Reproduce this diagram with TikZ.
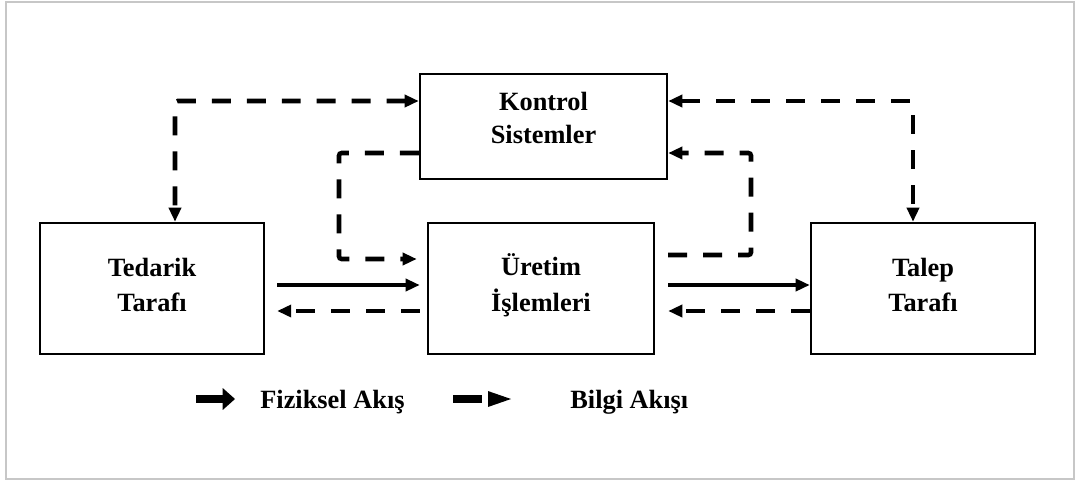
\documentclass[tikz,border=0pt]{standalone}
\usepackage{fontspec}
\setmainfont{Liberation Serif}
\colorlet{FrameGray}{black!22}
\usetikzlibrary{arrows.meta}
\tikzset{
    block/.style={
        draw, line width=1.4pt, align=center, inner sep=0pt,
        font=\fontsize{15}{20.3}\selectfont\bfseries
    },
    info flow/.style={
        line width=2.6pt, dash pattern=on 10.8pt off 9.1pt, rounded corners=1.5pt
    },
    physical flow/.style={line width=2.6pt},
    legend text/.style={anchor=base west, inner sep=0pt, font=\fontsize{15}{18}\selectfont\bfseries},
}

\begin{document}
\begin{tikzpicture}[x=0.02cm, y=-0.02cm, >={Triangle[length=8pt, width=6.8pt]}]

% Marco exterior
\useasboundingbox (0,0) rectangle (1075,481);
\draw[FrameGray, line width=1.1pt] (6,2) rectangle (1074,479);

% Bloques
\node[block, minimum width=4.94cm, minimum height=2.1cm, text depth=9.7pt,
      font=\fontsize{15}{18.6}\selectfont\bfseries] (kontrol) at (543.5,126.5) {Kontrol\\Sistemler};
\node[block, minimum width=4.48cm, minimum height=2.62cm, text depth=4pt] (tedarik) at (152,288.5) {Tedarik\\Tarafı};
\node[block, minimum width=4.52cm, minimum height=2.62cm, text depth=6.7pt] (uretim) at (541,288.5) {Üretim\\İşlemleri};
\node[block, minimum width=4.48cm, minimum height=2.62cm, text depth=4pt] (talep) at (923,288.5) {Talep\\Tarafı};

\coordinate (A) at (175,101);
\coordinate (B) at (913,101);
\coordinate (C) at (339,153);
\coordinate (D) at (339,259);
\coordinate (E) at (751,153);
\coordinate (F) at (751,255);

% Flujos de información con el sistema de control
\draw[info flow, <->] (kontrol.west |- A) -- (A) -- (tedarik.north -| A);
\draw[info flow, <->] (kontrol.east |- B) -- (B) -- (talep.north -| B);
\draw[info flow, ->, shorten >=5.7pt] (kontrol.west |- C) -- (C) -- (D) -- (uretim.west |- D);
\draw[info flow, ->, shorten <=7.4pt] (uretim.east |- F) -- (F) -- (E) -- (kontrol.east |- E);

% Flujos entre bloques: físico arriba, información abajo
\draw[physical flow, ->, shorten <=6.8pt, shorten >=4pt] ([yshift=0.07cm]tedarik.east) -- ([yshift=0.07cm]uretim.west);
\draw[info flow, ->, shorten <=4pt, shorten >=6.8pt] ([yshift=-0.45cm]uretim.west) -- ([yshift=-0.45cm]tedarik.east);
\draw[physical flow, ->, shorten <=7.4pt] ([yshift=0.07cm]uretim.east) -- ([yshift=0.07cm]talep.west);
\draw[info flow, ->, shorten >=7.4pt] ([yshift=-0.45cm]talep.west) -- ([yshift=-0.45cm]uretim.east);

% Leyenda
\coordinate (L1) at (196,399);
\coordinate (L2) at (235,399);
\coordinate (L3) at (453,399);
\coordinate (L4) at (511,399);
\draw[line width=4.5pt, -{Triangle[length=7pt, width=12.5pt, line width=0pt]}] (L1) -- (L2);
\draw[line width=4.5pt, dash pattern=on 16.5pt off 20pt,
      -{Triangle[length=13pt, width=9pt, line width=0pt]}] (L3) -- (L4);
\node[legend text] (fiziksel) at (260,408) {Fiziksel Akış};
\node[legend text] (bilgi) at (570,408) {Bilgi Akışı};
\end{tikzpicture}
\end{document}
